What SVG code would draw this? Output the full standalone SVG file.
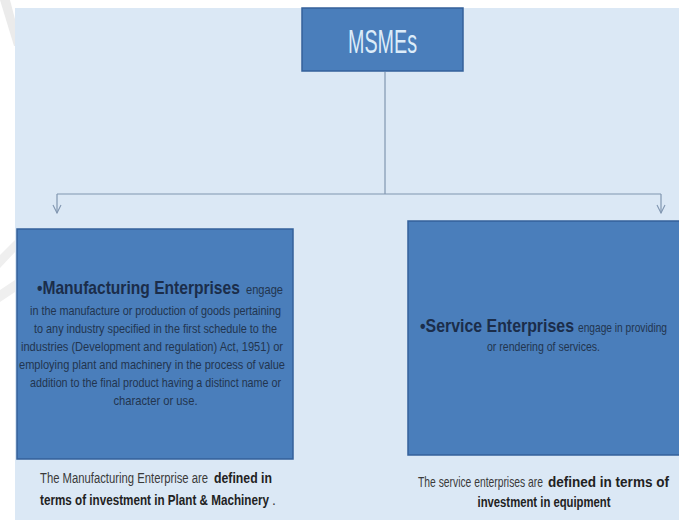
<svg xmlns="http://www.w3.org/2000/svg" width="679" height="520" viewBox="0 0 679 520">
  <defs>
    <style>
      .box { fill: #4a7ebb; stroke: #34609a; stroke-width: 1.5; }
      .link { fill: none; stroke: #8096b0; stroke-width: 1.2; }
      .head { font-family: "Liberation Sans", Arial, sans-serif; font-weight: bold; font-size: 18px; fill: #1b2d4a; }
      .body { font-family: "Liberation Sans", Arial, sans-serif; font-size: 13px; fill: #22354f; }
      .cap { font-family: "Liberation Sans", Arial, sans-serif; font-size: 14px; fill: #3a3a3a; }
      .capb { font-family: "Liberation Sans", Arial, sans-serif; font-size: 14px; font-weight: bold; fill: #222222; }
      .title { font-family: "Liberation Sans", Arial, sans-serif; font-size: 34px; fill: #dcecf9; }
    </style>
    <marker id="arrow" viewBox="0 0 10 10" refX="9" refY="5" markerWidth="10" markerHeight="10" markerUnits="userSpaceOnUse" orient="auto">
      <path d="M1,1 L9,5 L1,9" fill="none" stroke="#8096b0" stroke-width="1.1"/>
    </marker>
  </defs>

  <!-- page and panel -->
  <rect x="0" y="0" width="679" height="520" fill="#ffffff"/>
  <polygon points="0,0 10,0 22,46 14,46" fill="#ebebeb"/>
  <polygon points="0,255 15,240 15,252 0,268" fill="#efefef"/>
  <polygon points="0,290 15,280 15,292 0,302" fill="#efefef"/>
  <rect x="15" y="8" width="664" height="512" fill="#dbe8f5"/>

  <!-- connectors -->
  <g id="connectors">
    <path class="link" d="M385,72 V194"/>
    <path class="link" d="M57,194 H661"/>
    <path class="link" d="M57,194 V213" marker-end="url(#arrow)"/>
    <path class="link" d="M661,194 V213" marker-end="url(#arrow)"/>
  </g>

  <!-- root node -->
  <g id="msmes">
    <rect class="box" x="302" y="8" width="161" height="63"/>
    <text class="title" x="382.5" y="53" text-anchor="middle" textLength="69" lengthAdjust="spacingAndGlyphs">MSMEs</text>
  </g>

  <!-- manufacturing node -->
  <g id="manufacturing">
    <rect class="box" x="17" y="229" width="276" height="230"/>
    <text class="head" transform="translate(37,294) scale(0.867,1)" textLength="234" lengthAdjust="spacingAndGlyphs">•Manufacturing Enterprises</text>
    <text class="body" transform="translate(246,294) scale(0.853,1)" textLength="43.4" lengthAdjust="spacingAndGlyphs">engage</text>
    <text class="body" x="155.5" y="315" text-anchor="middle" textLength="251" lengthAdjust="spacingAndGlyphs">in the manufacture or production of goods pertaining</text>
    <text class="body" x="155.5" y="333" text-anchor="middle" textLength="243" lengthAdjust="spacingAndGlyphs">to any industry specified in the first schedule to the</text>
    <text class="body" x="152" y="351" text-anchor="middle" textLength="262" lengthAdjust="spacingAndGlyphs">industries (Development and regulation) Act, 1951) or</text>
    <text class="body" x="152" y="369" text-anchor="middle" textLength="266" lengthAdjust="spacingAndGlyphs">employing plant and machinery in the process of value</text>
    <text class="body" x="155.5" y="387" text-anchor="middle" textLength="251" lengthAdjust="spacingAndGlyphs">addition to the final product having a distinct name or</text>
    <text class="body" x="155.5" y="405" text-anchor="middle" textLength="84" lengthAdjust="spacingAndGlyphs">character or use.</text>
  </g>

  <!-- service node -->
  <g id="service">
    <rect class="box" x="408" y="221" width="274" height="234"/>
    <text class="head" transform="translate(420,332) scale(0.883,1)" textLength="174.4" lengthAdjust="spacingAndGlyphs">•Service Enterprises</text>
    <text class="body" transform="translate(578,332) scale(0.784,1)" textLength="113.5" lengthAdjust="spacingAndGlyphs">engage in providing</text>
    <text class="body" x="543.5" y="351" text-anchor="middle" textLength="113" lengthAdjust="spacingAndGlyphs">or rendering of services.</text>
  </g>

  <!-- captions -->
  <g id="manufacturing-caption">
    <text class="cap" transform="translate(40,483) scale(0.806,1)" textLength="208.5" lengthAdjust="spacingAndGlyphs">The Manufacturing  Enterprise are</text>
    <text class="capb" transform="translate(214,483) scale(0.877,1)" textLength="66.1" lengthAdjust="spacingAndGlyphs">defined in</text>
    <text class="capb" transform="translate(40,505) scale(0.834,1)" textLength="274.6" lengthAdjust="spacingAndGlyphs">terms of investment in Plant &amp; Machinery</text>
    <text class="cap" x="272" y="505">.</text>
  </g>
  <g id="service-caption">
    <text class="cap" transform="translate(418,487) scale(0.737,1)" textLength="169.6" lengthAdjust="spacingAndGlyphs">The service enterprises are</text>
    <text class="capb" transform="translate(548,487) scale(0.966,1)" textLength="125.2" lengthAdjust="spacingAndGlyphs">defined in terms of</text>
    <text class="capb" x="544" y="507" text-anchor="middle" textLength="133" lengthAdjust="spacingAndGlyphs">investment in equipment</text>
  </g>
</svg>
